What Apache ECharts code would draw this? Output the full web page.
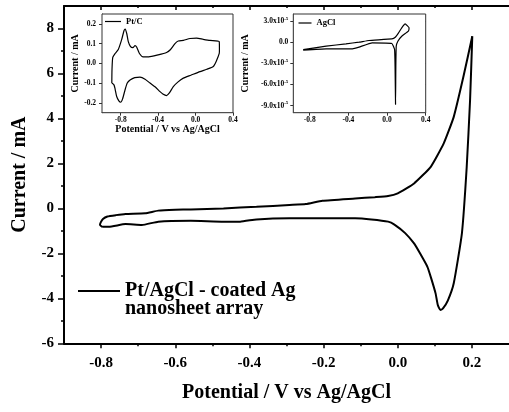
<!DOCTYPE html>
<html><head><meta charset="utf-8">
<script src="https://cdn.jsdelivr.net/npm/echarts@6/dist/echarts.min.js"></script>
<style>html,body{margin:0;padding:0;background:#fff}#c{width:509px;height:412px}</style>
</head><body><div id="c"></div>
<script>
// ---- Main CV: Pt/AgCl - coated Ag nanosheet array ----
const mainPotential = [-0.797,-0.803,-0.801,-0.795,-0.783,-0.760,-0.734,-0.681,-0.646,-0.600,-0.558,-0.470,-0.381,-0.292,-0.248,-0.203,-0.115,-0.062,-0.026,0.000,0.044,0.089,0.124,0.151,0.177,0.201,
  0.195,0.186,0.173,0.151,0.135,0.122,0.115,0.108,0.102,0.090,0.080,0.060,0.044,0.020,-0.009,-0.026,-0.071,-0.115,-0.203,-0.292,-0.381,-0.425,-0.470,-0.558,-0.646,-0.690,-0.734,-0.779,-0.797];
const mainCurrent = [-0.82,-0.74,-0.62,-0.47,-0.36,-0.30,-0.25,-0.22,-0.10,-0.06,-0.05,0.00,0.07,0.15,0.19,0.34,0.44,0.50,0.55,0.67,1.11,1.85,2.89,4.07,5.85,7.66,
  4.81,1.85,-1.11,-3.33,-4.10,-4.45,-4.52,-4.30,-3.78,-3.10,-2.60,-2.00,-1.56,-1.10,-0.72,-0.59,-0.49,-0.44,-0.44,-0.44,-0.49,-0.59,-0.59,-0.55,-0.59,-0.74,-0.70,-0.82,-0.82];

// ---- Inset 1: Pt/C ----
const ptcPotential = [-0.895,-0.893,-0.885,-0.860,-0.826,-0.790,-0.765,-0.752,-0.735,-0.719,-0.695,-0.670,-0.647,-0.630,-0.600,-0.560,-0.500,-0.400,-0.310,-0.270,-0.220,-0.185,-0.130,-0.060,0.011,0.080,0.154,0.253,
  0.255,0.253,0.220,0.189,0.120,0.047,-0.050,-0.131,-0.190,-0.238,-0.280,-0.310,-0.350,-0.380,-0.430,-0.487,-0.540,-0.594,-0.650,-0.700,-0.730,-0.754,-0.780,-0.800,-0.820,-0.843,-0.860,-0.872,-0.895];
const ptcCurrent = [-0.100,-0.030,0.030,0.050,0.070,0.120,0.165,0.174,0.150,0.110,0.085,0.080,0.090,0.083,0.050,0.033,0.033,0.043,0.055,0.069,0.100,0.113,0.116,0.126,0.128,0.122,0.116,0.110,
  0.070,0.050,0.010,-0.016,-0.030,-0.042,-0.060,-0.075,-0.095,-0.118,-0.150,-0.163,-0.155,-0.143,-0.120,-0.100,-0.080,-0.070,-0.072,-0.084,-0.100,-0.135,-0.180,-0.197,-0.190,-0.168,-0.130,-0.109,-0.100];

// ---- Inset 2: AgCl ----
const agclPotential = [-0.868,-0.630,-0.425,-0.290,-0.187,0.050,0.085,0.119,0.152,0.187,0.228,0.221,0.152,0.112,0.095,0.091,0.088,0.083,0.078,0.050,-0.154,-0.290,-0.358,-0.630,-0.868];
const agclCurrent = [-1.04e-5,-0.57e-5,-0.23e-5,0,0.24e-5,0.48e-5,0.71e-5,1.33e-5,2.04e-5,2.60e-5,2.04e-5,1.56e-5,0.85e-5,0.14e-5,-0.57e-5,-3.4e-5,-8.84e-5,-3.4e-5,-1.04e-5,-0.18e-5,-0.09e-5,-0.70e-5,-0.94e-5,-0.94e-5,-1.13e-5];

// ---- Ticks ----
const mainXTicks = [-0.8,-0.6,-0.4,-0.2,0.0,0.2];
const mainXMinor = [-0.7,-0.5,-0.3,-0.1,0.1];
const mainYTicks = [-6,-4,-2,0,2,4,6,8];
const mainYMinor = [-5,-3,-1,1,3,5,7];
const insetXTicks = [-0.8,-0.4,0.0,0.4];
const ptcYTicks = [-0.2,-0.1,0.0,0.1,0.2];
const agclYTicks = [-9e-5,-6e-5,-3e-5,0,3e-5];

const mainName = 'Pt/AgCl - coated Ag\nnanosheet array';
const F = 'Liberation Serif';
const zip = (a,b)=>a.map((v,i)=>[v,b[i]]);

const chart = echarts.init(document.getElementById('c'), null, {renderer:'canvas'});
const hid = {show:false};
const lab = (size, extra)=>Object.assign({color:'#000', fontFamily:F, fontWeight:'bold', fontSize:size}, extra||{});
const line = (c, w)=>({show:true, onZero:false, lineStyle:{color:c, width:w}});
const noLine = {show:false, onZero:false};

const option = {
  backgroundColor:'#fff',
  animation:false,
  grid:[
    {left:64, top:6, right:-6.8, bottom:68.7},
    {left:64, top:6, right:-6.8, bottom:68.7},
    {left:102, top:14, width:131, height:98.7, show:true, backgroundColor:'#fff', borderColor:'#333', borderWidth:1, z:5},
    {left:293.3, top:14, width:132.4, height:98.7, show:true, backgroundColor:'#fff', borderColor:'#333', borderWidth:1, z:5}
  ],
  legend:[
    {data:[mainName], left:78, top:263, orient:'vertical', padding:0, itemWidth:42, itemHeight:2, z:10,
     icon:'rect', itemStyle:{color:'#000'}, formatter:n=>'\n'+n,
     textStyle:lab(20,{lineHeight:18})},
    {data:['Pt/C'], left:105, top:17, orient:'vertical', padding:0, itemWidth:16, itemHeight:1.2, z:10,
     icon:'rect', itemStyle:{color:'#000'},
     textStyle:lab(8.5)},
    {data:['AgCl'], left:298.5, top:18.5, orient:'vertical', padding:0, itemWidth:13, itemHeight:1.2, z:10,
     icon:'rect', itemStyle:{color:'#000'},
     textStyle:lab(8.5)}
  ],
  xAxis:[
    {gridIndex:0, type:'value', min:-0.9, max:0.3, position:'bottom',
     axisLine:line('#000',2),
     axisTick:{customValues:mainXTicks, length:5, lineStyle:{color:'#000', width:1.5}},
     axisLabel:lab(15,{customValues:mainXTicks, margin:12, formatter:v=>v.toFixed(1)}),
     splitLine:hid,
     name:'Potential / V vs Ag/AgCl', nameLocation:'middle', nameGap:40, nameTextStyle:lab(20)},
    {gridIndex:0, type:'value', min:-0.9, max:0.3, position:'top',
     axisLine:line('#000',2),
     axisTick:{inside:true, customValues:mainXTicks, length:4, lineStyle:{color:'#000', width:1.5}},
     axisLabel:hid, splitLine:hid},
    {gridIndex:1, type:'value', min:-0.9, max:0.3, position:'bottom',
     axisLine:noLine, axisTick:{customValues:mainXMinor, length:3, lineStyle:{color:'#000', width:1.5}},
     axisLabel:hid, splitLine:hid},
    {gridIndex:1, type:'value', min:-0.9, max:0.3, position:'top',
     axisLine:noLine, axisTick:{inside:true, customValues:mainXMinor, length:2, lineStyle:{color:'#000', width:1.5}},
     axisLabel:hid, splitLine:hid},
    {gridIndex:2, type:'value', min:-1.0, max:0.4, position:'bottom',
     axisLine:line('#333',1),
     axisTick:{customValues:insetXTicks, length:3, lineStyle:{color:'#333', width:1}},
     axisLabel:lab(7.5,{customValues:insetXTicks, margin:3, formatter:v=>v.toFixed(1)}),
     splitLine:hid,
     name:'Potential / V vs Ag/AgCl', nameLocation:'middle', nameGap:10, nameTextStyle:lab(10)},
    {gridIndex:3, type:'value', min:-0.97, max:0.4, position:'bottom',
     axisLine:line('#333',1),
     axisTick:{customValues:insetXTicks, length:3, lineStyle:{color:'#333', width:1}},
     axisLabel:lab(7.5,{customValues:insetXTicks, margin:3, formatter:v=>v.toFixed(1)}),
     splitLine:hid}
  ],
  yAxis:[
    {gridIndex:0, type:'value', min:-6, max:9, position:'left',
     axisLine:line('#000',2),
     axisTick:{show:true, customValues:mainYTicks, length:6, lineStyle:{color:'#000', width:1.5}},
     axisLabel:lab(15,{customValues:mainYTicks, margin:10, formatter:v=>String(v)}),
     splitLine:hid,
     name:'Current / mA', nameLocation:'middle', nameRotate:90, nameGap:34, nameTextStyle:lab(20)},
    {gridIndex:1, type:'value', min:-6, max:9, position:'left',
     axisLine:noLine, axisTick:{show:true, customValues:mainYMinor, length:3, lineStyle:{color:'#000', width:1.5}},
     axisLabel:hid, splitLine:hid},
    {gridIndex:2, type:'value', min:-0.25, max:0.25, position:'left',
     axisLine:line('#333',1),
     axisTick:{show:true, customValues:ptcYTicks, length:3, lineStyle:{color:'#333', width:1}},
     axisLabel:lab(7.5,{customValues:ptcYTicks, margin:6, formatter:v=>v.toFixed(1)}),
     splitLine:hid,
     name:'Current / mA', nameLocation:'middle', nameRotate:90, nameGap:21, nameTextStyle:lab(10)},
    {gridIndex:2, type:'value', min:-0.25, max:0.25, position:'right',
     axisLine:noLine, axisTick:{show:true, inside:true, customValues:ptcYTicks, length:3, lineStyle:{color:'#333', width:1}},
     axisLabel:hid, splitLine:hid},
    {gridIndex:3, type:'value', min:-1e-4, max:4e-5, position:'left',
     axisLine:line('#333',1),
     axisTick:{show:true, customValues:agclYTicks, length:3, lineStyle:{color:'#333', width:1}},
     axisLabel:{customValues:agclYTicks, margin:5,
       formatter:v=>Math.abs(v)<1e-12 ? '{b|0.0}' : '{b|'+(v*1e5).toFixed(1)+'x10}{s|-5}',
       rich:{b:lab(7.5,{lineHeight:10}), s:lab(5,{lineHeight:10, verticalAlign:'top'})}},
     splitLine:hid,
     name:'Current / mA', nameLocation:'middle', nameRotate:90, nameGap:43, nameTextStyle:lab(10)},
    {gridIndex:3, type:'value', min:-1e-4, max:4e-5, position:'right',
     axisLine:noLine, axisTick:{show:true, inside:true, customValues:agclYTicks, length:3, lineStyle:{color:'#333', width:1}},
     axisLabel:hid, splitLine:hid}
  ],
  series:[
    {name:mainName, type:'line', xAxisIndex:0, yAxisIndex:0, data:zip(mainPotential, mainCurrent),
     symbol:'none', smooth:0.15, lineStyle:{color:'#000', width:2}, itemStyle:{color:'#000'}},
    {name:'Pt/C', type:'line', xAxisIndex:4, yAxisIndex:2, data:zip(ptcPotential, ptcCurrent),
     symbol:'none', smooth:0.2, lineStyle:{color:'#000', width:1.2}, itemStyle:{color:'#000'}, z:6},
    {name:'AgCl', type:'line', xAxisIndex:5, yAxisIndex:4, data:zip(agclPotential, agclCurrent),
     symbol:'none', smooth:0.1, lineStyle:{color:'#000', width:1.2}, itemStyle:{color:'#000'}, z:6}
  ]
};
chart.setOption(option);
</script></body></html>
